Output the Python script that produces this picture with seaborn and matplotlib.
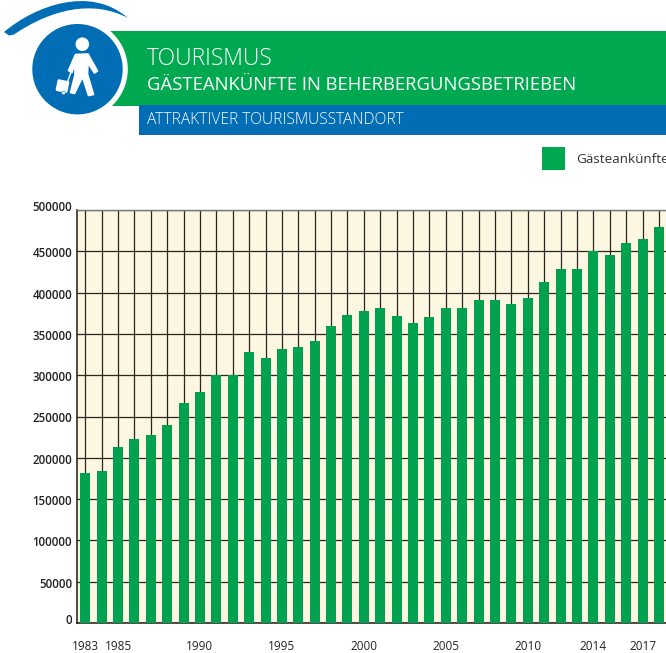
import matplotlib
matplotlib.use("Agg")
import matplotlib.pyplot as plt
import matplotlib.patches as mpatches
from matplotlib.path import Path
from matplotlib.transforms import Affine2D, ScaledTranslation
import pandas as pd
import seaborn as sns

years = list(range(1983, 2019))
arrivals = [181600, 184000, 213000, 222800, 227600, 239700, 266300, 279700, 300200,
            299800, 328100, 320800, 331700, 334100, 341400, 359600, 372900, 377700,
            381400, 371700, 363200, 370500, 381400, 381400, 391000, 391000, 386200,
            393500, 412800, 428600, 428600, 450400, 445500, 460000, 464900, 479400]
year_labels = [1983, 1985, 1990, 1995, 2000, 2005, 2010, 2014, 2017]
y_ticks = [0, 50000, 100000, 150000, 200000, 250000, 300000, 350000, 400000, 450000, 500000]

GREEN = "#00A94F"
BAR_GREEN = "#00A24F"
BLUE = "#006DB5"
CREAM = "#FDF6E0"
FONT = "Open Sans"
W, H = 666, 653

sns.set_theme(style="white")
plt.rcParams["font.family"] = [FONT, "DejaVu Sans"]

df = pd.DataFrame({"year": years, "arrivals": arrivals})

fig = plt.figure(figsize=(W / 100, H / 100), dpi=100)

# header drawn in pixel coordinates
head = fig.add_axes([0, 0, 1, 1], zorder=1)
head.set_xlim(0, W)
head.set_ylim(H, 0)
head.axis("off")

head.add_patch(mpatches.Rectangle((108, 31), W - 108, 74.5, color=GREEN, lw=0))
head.add_patch(mpatches.Rectangle((139, 105.3), W - 139, 29.7, color=BLUE, lw=0))
head.add_patch(mpatches.Circle((77.5, 69.2), 50.3, color="white", lw=0))
head.add_patch(mpatches.Circle((77.5, 69.2), 45.2, color=BLUE, lw=0))

swoosh = Path(
    [(4, 32), (35, 6), (90, -15), (128, 18), (92, -1), (50, 10), (14, 34.5), (9, 35.5), (4, 32)],
    [Path.MOVETO, Path.CURVE4, Path.CURVE4, Path.CURVE4, Path.CURVE4, Path.CURVE4, Path.CURVE4,
     Path.LINETO, Path.LINETO],
)
head.add_patch(mpatches.PathPatch(swoosh, color=BLUE, lw=0))

# traveller icon
head.add_patch(mpatches.Circle((82.3, 44.2), 6.8, color="white", lw=0))
body = [(75.5, 54.5), (88, 54), (97.5, 71), (94.5, 73), (88, 63), (87.5, 74), (93.5, 94.5),
        (88.5, 95.5), (82.5, 77), (74.5, 93.5), (70.5, 92.5), (75, 75), (75, 63), (72, 72.5), (68.5, 70.5)]
head.add_patch(mpatches.Polygon(body, closed=True, facecolor="white", edgecolor="white",
                                lw=1.2, joinstyle="round"))
case_rot = Affine2D().rotate_deg_around(62, 86, 12) + head.transData
head.add_patch(mpatches.FancyBboxPatch((56.5, 80), 12, 12, boxstyle="round,pad=0,rounding_size=1.5",
                                       color="white", lw=0, transform=case_rot))
head.plot([66.5, 71], [85, 72], color="white", lw=1)
head.add_patch(mpatches.Circle((63.5, 93), 1.8, facecolor="white", edgecolor=BLUE, lw=0.4))

head.text(147, 59, "TOURISMUS", color="white", fontsize=16.5, va="center", ha="left",
          fontweight="light")
head.text(147, 85, "GÄSTEANKÜNFTE IN BEHERBERGUNGSBETRIEBEN", color="white", fontsize=13.3,
          va="center", ha="left")
head.text(147, 120, "ATTRAKTIVER TOURISMUSSTANDORT", color="white", fontsize=11.2,
          va="center", ha="left", fontweight="light")

# chart
ax = fig.add_axes([77 / W, 1 - 623 / H, (W - 77) / W, 413 / H], zorder=2)
ax.set_facecolor(CREAM)
sns.barplot(data=df, x="year", y="arrivals", color=BAR_GREEN, width=0.61, saturation=1,
            linewidth=0, edgecolor="none", label="Gästeankünfte", ax=ax, zorder=3)
ax.set_xlim(-0.5, 35.43)
ax.set_ylim(0, 500000)
ax.set_xlabel("")
ax.set_ylabel("")
ax.set_axisbelow(True)
ax.grid(True, color="#2b2622", lw=0.9)
ax.set_yticks(y_ticks)
ax.set_yticklabels([str(v) for v in y_ticks], fontsize=8.3, color="#222222", fontweight="semibold")
ax.set_xticks(range(len(years)))
ax.set_xticklabels([str(y) if y in year_labels else "" for y in years], fontsize=8.5, color="#222222")
ax.tick_params(axis="x", length=0, pad=12.5)
ax.tick_params(axis="y", length=0, pad=3.5)

# end labels sit a little above their gridlines
up = ScaledTranslation(0, 3 / 72, fig.dpi_scale_trans)
for lab in [ax.get_yticklabels()[0], ax.get_yticklabels()[-1]]:
    lab.set_transform(lab.get_transform() + up)
down = ScaledTranslation(0, -0.7 / 72, fig.dpi_scale_trans)
for lab in ax.get_yticklabels()[1:-1]:
    lab.set_transform(lab.get_transform() + down)

for side in ["left", "bottom"]:
    ax.spines[side].set_visible(True)
    ax.spines[side].set_color("#1e1a17")
    ax.spines[side].set_linewidth(1.1)
ax.spines["top"].set_visible(True)
ax.spines["top"].set_color("#777777")
ax.spines["top"].set_linewidth(1)
ax.spines["right"].set_visible(False)

leg = ax.legend(loc="center left", bbox_to_anchor=(542 / W, 1 - 158.5 / H),
                bbox_transform=fig.transFigure, frameon=False, fontsize=9.7,
                handlelength=1.71, handleheight=2.25, handletextpad=0.8,
                borderpad=0, borderaxespad=0)
for t in leg.get_texts():
    t.set_color("#333333")
for h in leg.legend_handles:
    h.set_color(GREEN)

fig.savefig("out.png", dpi=100)
